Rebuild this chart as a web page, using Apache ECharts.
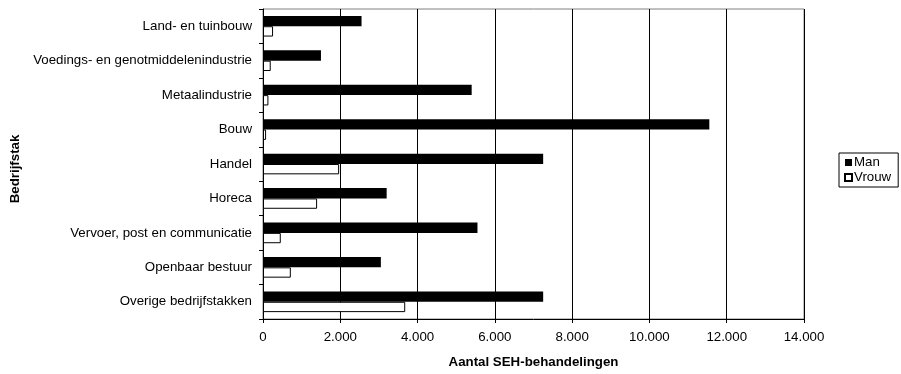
<!DOCTYPE html>
<html>
<head>
<meta charset="utf-8">
<script src="https://cdn.jsdelivr.net/npm/echarts@6/dist/echarts.min.js"></script>
<style>
  html, body { margin: 0; padding: 0; background: #fff; }
  #chart { width: 901px; height: 374px; }
</style>
</head>
<body>
<div id="chart"></div>
<script>
// SEH-behandelingen per bedrijfstak, naar geslacht
const categories = [
  'Land- en tuinbouw',
  'Voedings- en genotmiddelenindustrie',
  'Metaalindustrie',
  'Bouw',
  'Handel',
  'Horeca',
  'Vervoer, post en communicatie',
  'Openbaar bestuur',
  'Overige bedrijfstakken'
];
const manValues   = [2550, 1500, 5400, 11550, 7250, 3200, 5550, 3050, 7250];
const vrouwValues = [260, 200, 140, 80, 1970, 1400, 460, 720, 3680];
const seriesNames = ['Man', 'Vrouw'];

const FONT = "'Liberation Sans', Arial, sans-serif";
const FS = 13.3;

// Dutch thousands separator: 12000 -> "12.000"
function formatNL(v) {
  return String(v).replace(/\B(?=(\d{3})+(?!\d))/g, '.');
}

const chart = echarts.init(document.getElementById('chart'), null, { renderer: 'canvas' });

chart.setOption({
  animation: false,
  backgroundColor: '#ffffff',
  textStyle: { fontFamily: FONT, color: '#000' },
  grid: {
    left: 263, top: 9, right: 97, bottom: 53,
    show: true, borderColor: '#808080', borderWidth: 1, backgroundColor: 'transparent'
  },
  legend: {
    orient: 'vertical',
    left: 839, top: 153,
    padding: [3, 7, 3, 5],
    itemGap: 2,
    itemWidth: 7, itemHeight: 7,
    icon: 'rect',
    borderColor: '#000', borderWidth: 1,
    textStyle: { fontFamily: FONT, fontSize: FS, color: '#000', padding: [0, 0, 0, -3] },
    data: seriesNames
  },
  xAxis: {
    type: 'value',
    min: 0, max: 14000, interval: 2000,
    name: 'Aantal SEH-behandelingen',
    nameLocation: 'middle',
    nameGap: 37,
    nameTextStyle: { fontFamily: FONT, fontSize: FS, fontWeight: 'bold', color: '#000' },
    axisLine: { show: true, lineStyle: { color: '#000', width: 1 } },
    axisTick: { show: true, length: 4, lineStyle: { color: '#000' } },
    axisLabel: { fontFamily: FONT, fontSize: FS, color: '#000', margin: 12, formatter: formatNL },
    splitLine: { show: true, lineStyle: { color: '#000', width: 1 } }
  },
  yAxis: {
    type: 'category',
    inverse: true,
    data: categories,
    name: 'Bedrijfstak',
    nameLocation: 'middle',
    nameRotate: 90,
    nameGap: 238,
    nameTextStyle: { fontFamily: FONT, fontSize: FS, fontWeight: 'bold', color: '#000', padding: [0, 10, 0, 0] },
    axisLine: { show: true, lineStyle: { color: '#000', width: 1 } },
    axisTick: { show: true, length: 4, lineStyle: { color: '#000' } },
    axisLabel: { fontFamily: FONT, fontSize: FS, color: '#000', margin: 11 },
    splitLine: { show: false }
  },
  series: [
    {
      name: seriesNames[0],
      type: 'bar',
      data: manValues,
      barGap: '0%',
      barCategoryGap: '40%',
      itemStyle: { color: '#000', borderColor: '#000', borderWidth: 0 }
    },
    {
      name: seriesNames[1],
      type: 'bar',
      data: vrouwValues,
      barGap: '0%',
      barCategoryGap: '40%',
      itemStyle: { color: '#fff', borderColor: '#000', borderWidth: 1 }
    }
  ]
});
</script>
</body>
</html>
